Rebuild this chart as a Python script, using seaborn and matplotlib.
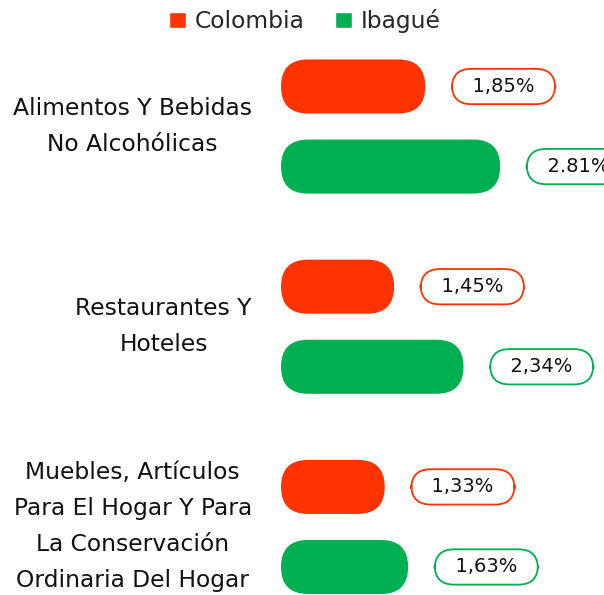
import pandas as pd
import matplotlib.pyplot as plt
import seaborn as sns
from matplotlib.patches import FancyBboxPatch, Patch

# datos
categorias = ["Alimentos Y Bebidas\nNo Alcohólicas",
              "Restaurantes Y\nHoteles",
              "Muebles, Artículos\nPara El Hogar Y Para\nLa Conservación\nOrdinaria Del Hogar"]
colombia = [1.85, 1.45, 1.33]
ibague = [2.81, 2.34, 1.63]
etiquetas_colombia = ["1,85%", "1,45%", "1,33%"]
etiquetas_ibague = ["2.81%", "2,34%", "1,63%"]
series = ["Colombia", "Ibagué"]
colores = {"Colombia": "#FF3300", "Ibagué": "#00B050"}

df = pd.DataFrame({
    "categoria": categorias * 2,
    "valor": colombia + ibague,
    "serie": [series[0]] * 3 + [series[1]] * 3,
})

sns.set_style("white")
plt.rcParams["font.family"] = ["DejaVu Sans"]
FS = 16.8

fig = plt.figure(figsize=(6.04, 5.95), dpi=100)
ax = fig.add_axes([281 / 604, 0, 323 / 604, 1])

sns.barplot(data=df, y="categoria", x="valor", hue="serie", orient="h",
            palette=colores, width=0.8, gap=0.325, legend=False, ax=ax)

ax.set_xlim(0, 323 / 78)
ax.set_ylim(2.34, -0.632)
sns.despine(ax=ax, left=True, bottom=True)
ax.set_xlabel("")
ax.set_ylabel("")
ax.set_xticks([])
ax.tick_params(axis="y", length=0, pad=21, labelsize=FS, labelcolor="#111111")
for t in ax.get_yticklabels():
    t.set_multialignment("center")
    t.set_verticalalignment("center")
    t.set_linespacing(1.72)

# barras redondeadas
fig.canvas.draw()
p0 = ax.transData.transform((0, 0))
p1 = ax.transData.transform((1, 1))
aspect = abs((p1[0] - p0[0]) / (p1[1] - p0[1]))

etiquetas = [etiquetas_colombia, etiquetas_ibague]
for cont, serie, labs in zip(ax.containers, series, etiquetas):
    for bar, lab in zip(cont, labs):
        x, y = bar.get_x(), bar.get_y()
        w, h = bar.get_width(), bar.get_height()
        bar.set_visible(False)
        r = (h / aspect) / 2
        ax.add_patch(FancyBboxPatch((x, y), w, h,
                                    boxstyle=f"round,pad=0,rounding_size={r}",
                                    mutation_aspect=aspect,
                                    facecolor=colores[serie], edgecolor="none"))
        ax.annotate(f"  {lab}  ", xy=(w, y + h / 2), xytext=(25, 0),
                    textcoords="offset points", ha="left", va="center",
                    fontsize=14, color="#111111", annotation_clip=False,
                    bbox=dict(boxstyle="round,pad=0.42,rounding_size=1.0",
                              facecolor="white", edgecolor=colores[serie],
                              linewidth=1.3))

handles = [Patch(facecolor=colores[s], label=s) for s in series]
fig.legend(handles=handles, loc="upper center", bbox_to_anchor=(305 / 604, 1.02),
           ncol=2, frameon=False, fontsize=FS, handlelength=0.7,
           handleheight=0.7, handletextpad=0.4, columnspacing=1.3)

fig.savefig("out.png", dpi=100)
